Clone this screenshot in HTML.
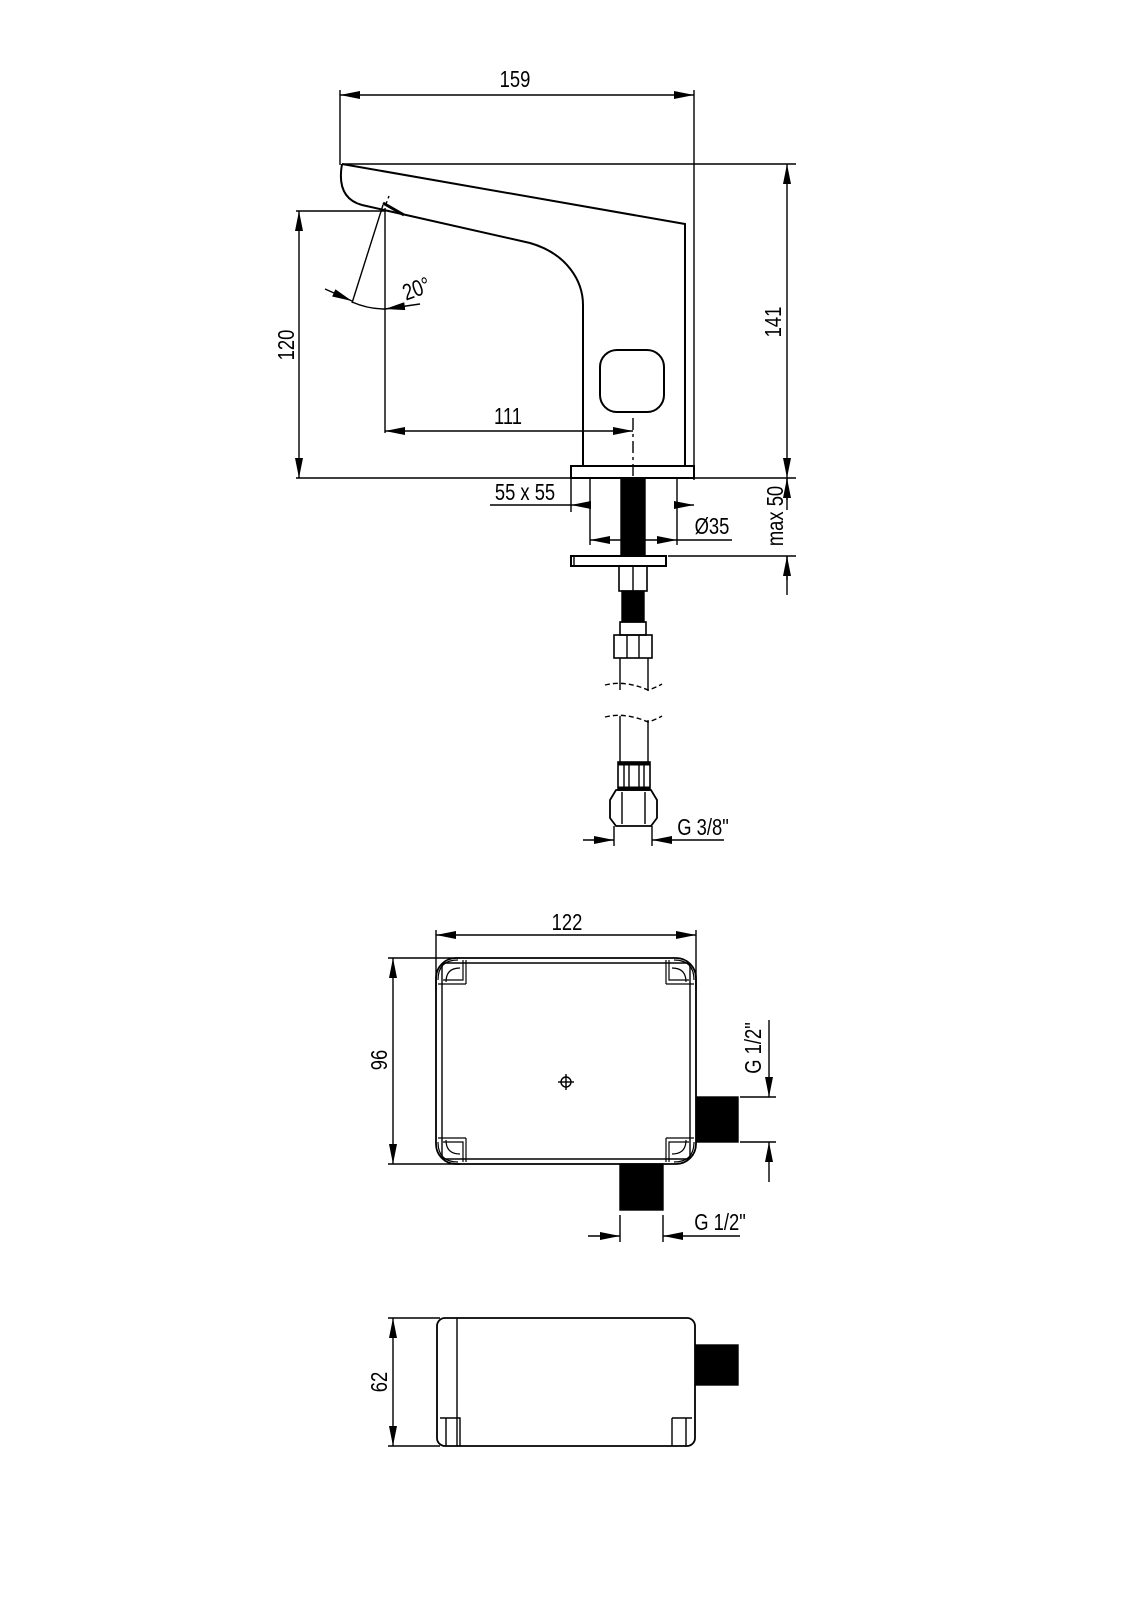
<!DOCTYPE html>
<html><head><meta charset="utf-8"><style>
html,body{margin:0;padding:0;background:#fff}
svg{display:block}
text{font-family:"Liberation Sans",sans-serif;font-size:23px;fill:#000}
</style></head><body>
<svg width="1131" height="1600" viewBox="0 0 1131 1600" xmlns="http://www.w3.org/2000/svg">
<defs>
<marker id="a" viewBox="0 0 20 8" refX="20" refY="4" markerWidth="20" markerHeight="8" markerUnits="userSpaceOnUse" orient="auto-start-reverse"><path d="M0,0 L20,4 L0,8 z" fill="#000"/></marker>
</defs>
<g stroke="#000" stroke-width="1.4" fill="none">
<line x1="340" y1="90" x2="340" y2="165"/>
<line x1="694" y1="90" x2="694" y2="480"/>
<line x1="340" y1="95" x2="694" y2="95" marker-start="url(#a)" marker-end="url(#a)"/>
<line x1="342" y1="164" x2="796" y2="164"/>
<line x1="787" y1="164" x2="787" y2="478" marker-start="url(#a)" marker-end="url(#a)"/>
<line x1="694" y1="478" x2="796" y2="478"/>
<path stroke-width="2" d="M342,164 L685,224 L685,466 M342,164 Q336,198 362,205 L530,243 C568,254 583,282 583,305 L583,466"/>
<rect x="600" y="350" width="64" height="62" rx="17" stroke-width="2"/>
<line x1="633" y1="418" x2="633" y2="478" stroke-dasharray="12,4,3,4"/>
<rect x="571" y="466" width="123" height="12" stroke-width="2"/>
<line x1="385" y1="208" x2="385" y2="433"/>
<line x1="385" y1="431" x2="633" y2="431" marker-start="url(#a)" marker-end="url(#a)"/>
<line x1="296" y1="211" x2="386" y2="211"/>
<line x1="296" y1="478" x2="571" y2="478"/>
<line x1="299" y1="211" x2="299" y2="478" marker-start="url(#a)" marker-end="url(#a)"/>
<line x1="383" y1="205" x2="352" y2="303"/>
<line x1="386" y1="204" x2="389" y2="196" stroke-dasharray="3,3"/>
<path d="M383,203 L404,215" stroke-width="3"/>
<line x1="325" y1="289" x2="352" y2="301" marker-end="url(#a)"/>
<path d="M352,302 Q368,309 385,309"/>
<line x1="420" y1="304" x2="385" y2="309" marker-end="url(#a)"/>
<rect x="621" y="478" width="24" height="78" fill="#000"/>
<line x1="571" y1="478" x2="571" y2="512"/>
<line x1="490" y1="505" x2="571" y2="505"/>
<line x1="590" y1="505" x2="571" y2="505" marker-end="url(#a)"/>
<line x1="676" y1="505" x2="694" y2="505" marker-end="url(#a)"/>
<line x1="590" y1="478" x2="590" y2="545"/>
<line x1="677" y1="478" x2="677" y2="545"/>
<line x1="590" y1="540" x2="621" y2="540" marker-start="url(#a)"/>
<line x1="645" y1="540" x2="677" y2="540" marker-end="url(#a)"/>
<line x1="677" y1="540" x2="732" y2="540"/>
<line x1="668" y1="556" x2="796" y2="556"/>
<line x1="787" y1="478" x2="787" y2="510"/>
<line x1="787" y1="556" x2="787" y2="595"/>
<line x1="787" y1="580" x2="787" y2="556" marker-end="url(#a)"/>
<line x1="787" y1="500" x2="787" y2="478" marker-end="url(#a)"/>
<rect x="571" y="556" width="95" height="10" stroke-width="2"/>
<line x1="574" y1="556" x2="574" y2="566"/>
<rect x="619" y="566" width="28" height="25" stroke-width="1.6"/>
<line x1="633" y1="566" x2="633" y2="591"/>
<rect x="622" y="591" width="22" height="31" fill="#000"/>
<rect x="620" y="622" width="26" height="13" stroke-width="1.6"/>
<rect x="614" y="635" width="38" height="23" stroke-width="1.6"/>
<line x1="627" y1="635" x2="627" y2="658"/><line x1="639" y1="635" x2="639" y2="658"/>
<line x1="620" y1="658" x2="620" y2="690"/><line x1="648" y1="658" x2="648" y2="691"/>
<path d="M605,685 Q625,680 648,690 Q655,688 662,684" stroke-dasharray="5,3"/>
<path d="M605,717 Q625,712 648,722 Q655,720 662,716" stroke-dasharray="5,3"/>
<line x1="620" y1="716" x2="620" y2="762"/><line x1="648" y1="720" x2="648" y2="762"/>
<rect x="618" y="762" width="32" height="28" stroke-width="1.6"/>
<line x1="618" y1="764" x2="650" y2="764" stroke-width="3"/>
<line x1="618" y1="788" x2="650" y2="788" stroke-width="3"/>
<line x1="624" y1="764" x2="624" y2="788"/><line x1="629" y1="764" x2="629" y2="788"/>
<line x1="639" y1="764" x2="639" y2="788"/><line x1="644" y1="764" x2="644" y2="788"/>
<path d="M616,790 L651,790 L657,800 L657,818 L651,826 L616,826 L610,818 L610,800 Z" stroke-width="1.8"/>
<line x1="622" y1="792" x2="622" y2="824"/><line x1="645" y1="792" x2="645" y2="824"/>
<line x1="614" y1="826" x2="614" y2="846"/><line x1="652" y1="826" x2="652" y2="846"/>
<line x1="583" y1="840" x2="614" y2="840" marker-end="url(#a)"/>
<line x1="724" y1="840" x2="652" y2="840" marker-end="url(#a)"/>
<line x1="436" y1="930" x2="436" y2="990"/>
<line x1="696" y1="930" x2="696" y2="990"/>
<line x1="436" y1="935" x2="696" y2="935" marker-start="url(#a)" marker-end="url(#a)"/>
<rect x="436" y="958" width="260" height="206" rx="20" stroke-width="1.8"/>
<rect x="442" y="963" width="248" height="196" rx="4"/>
<line x1="388" y1="958" x2="460" y2="958"/>
<line x1="388" y1="1164" x2="460" y2="1164"/>
<line x1="393" y1="958" x2="393" y2="1164" marker-start="url(#a)" marker-end="url(#a)"/>
<g stroke-width="1.2">
<path d="M438,980 Q438,960 458,960 M446,982 Q446,968 460,968 M443,980 L463,980 L463,960 M438,984 L466,984 M466,984 L466,960"/>
<path d="M694,980 Q694,960 674,960 M686,982 Q686,968 672,968 M689,980 L669,980 L669,960 M694,984 L666,984 M666,984 L666,960"/>
<path d="M438,1142 Q438,1162 458,1162 M446,1140 Q446,1154 460,1154 M443,1142 L463,1142 L463,1162 M438,1138 L466,1138 M466,1138 L466,1162"/>
<path d="M694,1142 Q694,1162 674,1162 M686,1140 Q686,1154 672,1154 M689,1142 L669,1142 L669,1162 M694,1138 L666,1138 M666,1138 L666,1162"/>
</g>
<circle cx="566" cy="1082" r="5"/>
<line x1="558" y1="1082" x2="574" y2="1082"/><line x1="566" y1="1074" x2="566" y2="1090"/>
<rect x="697" y="1097" width="41" height="45" fill="#000"/>
<rect x="620" y="1164" width="43" height="46" fill="#000"/>
<line x1="740" y1="1097" x2="776" y2="1097"/>
<line x1="740" y1="1142" x2="776" y2="1142"/>
<line x1="769" y1="1020" x2="769" y2="1097" marker-end="url(#a)"/>
<line x1="769" y1="1182" x2="769" y2="1142" marker-end="url(#a)"/>
<line x1="620" y1="1215" x2="620" y2="1242"/><line x1="663" y1="1215" x2="663" y2="1242"/>
<line x1="588" y1="1236" x2="620" y2="1236" marker-end="url(#a)"/>
<line x1="740" y1="1236" x2="663" y2="1236" marker-end="url(#a)"/>
<rect x="437" y="1318" width="258" height="128" rx="8" stroke-width="1.8"/>
<line x1="457" y1="1318" x2="457" y2="1446"/>
<line x1="388" y1="1318" x2="440" y2="1318"/>
<line x1="388" y1="1446" x2="440" y2="1446"/>
<line x1="393" y1="1318" x2="393" y2="1446" marker-start="url(#a)" marker-end="url(#a)"/>
<path d="M440,1418 L460,1418 L460,1446 M446,1418 L446,1446 M672,1418 L692,1418 M672,1418 L672,1446 M686,1418 L686,1446"/>
<rect x="696" y="1345" width="42" height="40" fill="#000"/>
</g>
<g text-anchor="middle">
<text transform="translate(515,87) scale(0.8,1)">159</text>
<text transform="translate(781,322) rotate(-90) scale(0.8,1)">141</text>
<text transform="translate(294,345) rotate(-90) scale(0.8,1)">120</text>
<text transform="translate(508,424) scale(0.8,1)">111</text>
<text transform="translate(419,296) rotate(-20) scale(0.8,1)">20°</text>
<text transform="translate(525,500) scale(0.8,1)">55 x 55</text>
<text transform="translate(712,534) scale(0.8,1)">Ø35</text>
<text transform="translate(783,516) rotate(-90) scale(0.8,1)">max 50</text>
<text transform="translate(703,835) scale(0.8,1)">G 3/8"</text>
<text transform="translate(567,930) scale(0.8,1)">122</text>
<text transform="translate(387,1060) rotate(-90) scale(0.8,1)">96</text>
<text transform="translate(761,1048) rotate(-90) scale(0.8,1)">G 1/2"</text>
<text transform="translate(720,1230) scale(0.8,1)">G 1/2"</text>
<text transform="translate(387,1382) rotate(-90) scale(0.8,1)">62</text>
</g>
</svg>
</body></html>
